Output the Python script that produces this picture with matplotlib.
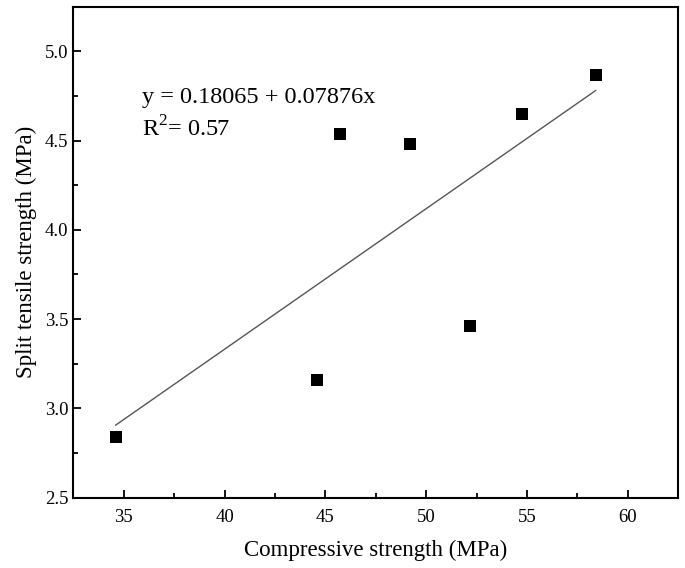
import numpy as np
import matplotlib
matplotlib.use('Agg')
import matplotlib.pyplot as plt
from matplotlib.ticker import MultipleLocator

plt.rcParams['font.family'] = ['Liberation Serif', 'DejaVu Serif']
plt.rcParams['mathtext.fontset'] = 'custom'
plt.rcParams['mathtext.rm'] = 'Liberation Serif'

compressive = [34.6, 44.57, 45.73, 49.19, 52.18, 54.75, 58.41]
split_tensile = [2.84, 3.16, 4.54, 4.48, 3.46, 4.65, 4.87]

intercept = 0.18065
slope = 0.07876

fig = plt.figure(figsize=(6.85, 5.68), dpi=100)
ax = fig.add_axes([0.107, 0.124, 0.883, 0.864])

fit_x = np.array([min(compressive), max(compressive)])
ax.plot(fit_x, intercept + slope * fit_x, color='#555555', lw=1.0)
ax.plot(compressive, split_tensile, 's', color='black', ms=8, markeredgewidth=0)

ax.set_xlim(32.5, 62.5)
ax.set_ylim(2.5, 5.25)
ax.xaxis.set_major_locator(MultipleLocator(5))
ax.xaxis.set_minor_locator(MultipleLocator(2.5))
ax.yaxis.set_major_locator(MultipleLocator(0.5))
ax.yaxis.set_minor_locator(MultipleLocator(0.25))
ax.tick_params(which='both', direction='in', top=False, right=False, labelsize=13.5, width=1.3)
ax.tick_params(which='major', length=6)
ax.tick_params(which='minor', length=3.5)
ax.tick_params(axis='x', pad=8)
for s in ax.spines.values():
    s.set_linewidth(1.5)

ax.set_xlabel('Compressive strength (MPa)', fontsize=16.5, labelpad=10)
ax.set_ylabel('Split tensile strength (MPa)', fontsize=16.5, labelpad=6)

ax.text(35.9, 4.713, 'y = 0.18065 + 0.07876x', fontsize=17.5, va='baseline')
ax.text(35.9, 4.523, 'R$^2$= 0.57', fontsize=17.5, va='baseline')

fig.savefig('out.png', dpi=100)
